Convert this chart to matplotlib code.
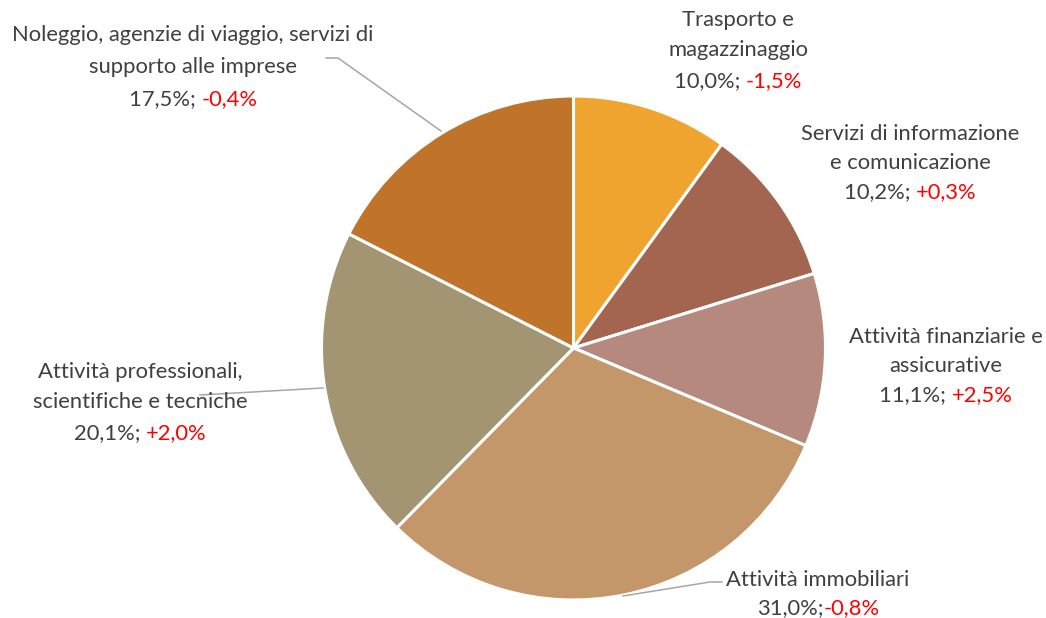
import matplotlib
matplotlib.use("Agg")
import matplotlib.pyplot as plt

categories = [
    "Trasporto e\nmagazzinaggio",
    "Servizi di informazione\ne comunicazione",
    "Attività finanziarie e\nassicurative",
    "Attività immobiliari",
    "Attività professionali,\nscientifiche e tecniche",
    "Noleggio, agenzie di viaggio, servizi di\nsupporto alle imprese",
]
shares = [10.0, 10.2, 11.1, 31.0, 20.1, 17.5]
changes = ["-1,5%", "+0,3%", "+2,5%", "-0,8%", "+2,0%", "-0,4%"]
separators = ["; ", "; ", "; ", ";", "; ", "; "]
colors = ["#F0A430", "#A46550", "#B5897D", "#C4976B", "#A39472", "#C0742A"]

# layout (pixel coordinates from top-left)
label_cx = [738, 910, 946, 818, 140, 193]
label_ys = [[20, 50, 81], [134, 163, 192], [337, 366, 395], [580, 608],
            [372, 402, 433], [35, 67, 99]]
leaders = {
    5: [(326, 58), (338, 58), (441, 131)],
    4: [(200, 395), (323, 388)],
    3: [(623, 596), (710, 582), (722, 582)],
}

W, H = 1046, 618
plt.rcParams['font.family'] = ['Lato', 'DejaVu Sans']
fig = plt.figure(figsize=(W / 100, H / 100), dpi=100)
ax = fig.add_axes([0, 0, 1, 1])

ax.pie(shares, colors=colors, startangle=90, counterclock=False,
       center=(573.5, H - 348), radius=252, frame=True,
       wedgeprops=dict(edgecolor='white', linewidth=2.2))
ax.set_xlim(0, W)
ax.set_ylim(0, H)
ax.set_aspect('equal')
ax.axis('off')

for idx, pts in leaders.items():
    xs = [p[0] for p in pts]
    ys = [H - p[1] for p in pts]
    ax.plot(xs, ys, color='#A6A6A6', lw=1.1, zorder=1)

# fit font size
renderer = fig.canvas.get_renderer()
probe = ax.text(0, 0, "Noleggio, agenzie di viaggio, servizi di", fontsize=14)
w14 = probe.get_window_extent(renderer).width
probe.remove()
fs = 14 * 365 / w14

grey = '#404040'
for i, cat in enumerate(categories):
    lines = cat.split("\n")
    cx = label_cx[i]
    ys = label_ys[i]
    for j, line in enumerate(lines):
        ax.text(cx, H - ys[j], line, fontsize=fs, color=grey,
                ha='center', va='center', zorder=3)
    y = H - ys[len(lines)]
    share_str = f"{shares[i]:.1f}".replace(".", ",") + "%" + separators[i]
    full = ax.text(0, 0, share_str + changes[i], fontsize=fs)
    wf = full.get_window_extent(renderer).width
    full.remove()
    ax.text(cx - wf / 2, y, share_str, fontsize=fs, color=grey,
            ha='left', va='center', zorder=3)
    ax.text(cx + wf / 2, y, changes[i], fontsize=fs, color='#FF0000',
            ha='right', va='center', zorder=3)

fig.savefig("out.png", dpi=100, facecolor='white')
